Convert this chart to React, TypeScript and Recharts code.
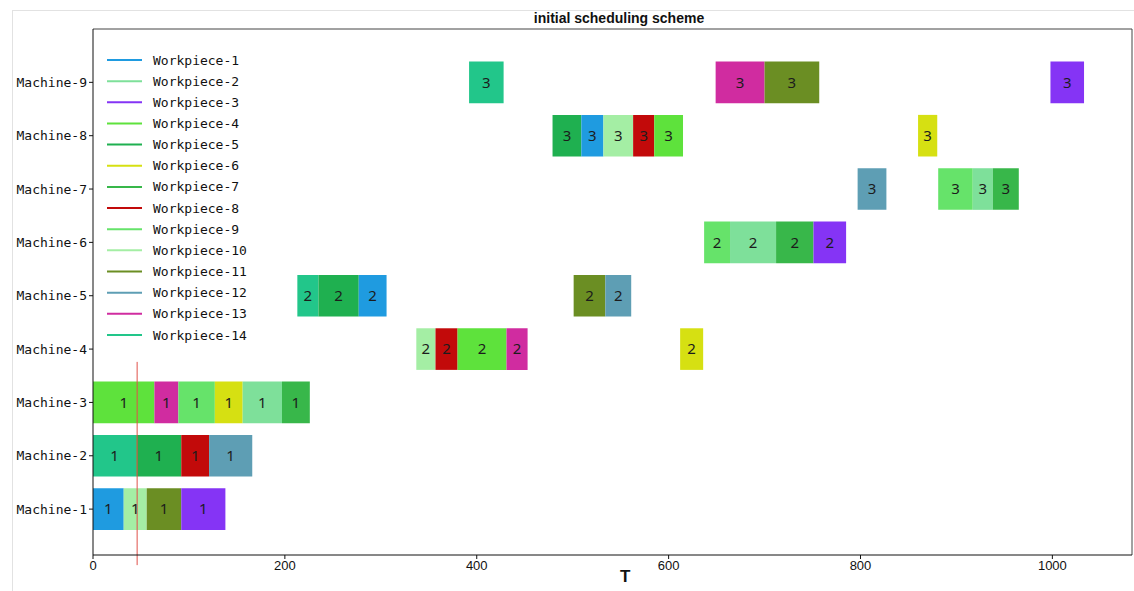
import { ComposedChart, XAxis, YAxis, ReferenceArea, ReferenceLine } from 'recharts';

const machines = [1, 2, 3, 4, 5, 6, 7, 8, 9];
const xTicks = [0, 200, 400, 600, 800, 1000];

const workpieces = [
    'Workpiece-1', 'Workpiece-2', 'Workpiece-3', 'Workpiece-4', 'Workpiece-5',
    'Workpiece-6', 'Workpiece-7', 'Workpiece-8', 'Workpiece-9', 'Workpiece-10',
    'Workpiece-11', 'Workpiece-12', 'Workpiece-13', 'Workpiece-14',
];
const workpieceColors = [
    '#1f9be0', '#7ee09a', '#8534f5', '#5ee23c', '#1fb050', '#d6e012', '#38b74a',
    '#c20a0a', '#66e36a', '#a4eea4', '#6b8e23', '#5e9eb4', '#d02ca0', '#22c68a',
];

// [machine, workpiece, start, end]
const firstOps = [
    [1, 1, 0, 32], [1, 10, 32, 56], [1, 11, 56, 92], [1, 3, 92, 138],
    [2, 14, 0, 45], [2, 5, 45, 92], [2, 8, 92, 121], [2, 12, 121, 166],
    [3, 4, 0, 64], [3, 13, 64, 89], [3, 9, 89, 127], [3, 6, 127, 156], [3, 2, 156, 197], [3, 7, 197, 226],
];
const secondOps = [
    [4, 10, 337, 357], [4, 8, 357, 380], [4, 4, 380, 431], [4, 13, 431, 453], [4, 6, 612, 636],
    [5, 14, 213, 235], [5, 5, 235, 277], [5, 1, 277, 306], [5, 11, 501, 534], [5, 12, 534, 561],
    [6, 9, 637, 664], [6, 2, 664, 712], [6, 7, 712, 751], [6, 3, 751, 785],
];
const thirdOps = [
    [7, 12, 797, 827], [7, 9, 881, 917], [7, 2, 917, 938], [7, 7, 938, 965],
    [8, 5, 479, 509], [8, 1, 509, 532], [8, 10, 532, 563], [8, 8, 563, 585], [8, 4, 585, 615], [8, 6, 860, 880],
    [9, 14, 392, 428], [9, 13, 649, 700], [9, 11, 700, 757], [9, 3, 998, 1033],
];

const markerTime = 46;

const mono = '"DejaVu Sans Mono", monospace';

const operations = [firstOps, secondOps, thirdOps];

export default function App() {
    const half = 0.39;
    return (
        <div style={{ position: 'absolute', left: 0, top: 0, width: 1134, height: 591, background: '#fff' }}>
            <div style={{
                position: 'absolute', left: 12, top: 10, right: 0, bottom: 0,
                borderLeft: '1px solid #e2e2e2', borderTop: '1px solid #e2e2e2',
            }} />
            <div style={{
                position: 'absolute', left: 0, width: 1238, top: 10, textAlign: 'center',
                fontFamily: '"Liberation Sans", Arial, sans-serif', fontWeight: 'bold', fontSize: 14, color: '#111',
            }}>
                initial scheduling scheme
            </div>
            <ComposedChart width={1134} height={591} margin={{ top: 29, right: 2, bottom: 0, left: 0 }}
                style={{ position: 'absolute', left: 0, top: 0 }}>
                <XAxis type="number" dataKey="x" domain={[0, 1083]} ticks={xTicks} allowDataOverflow
                    height={36} stroke="#111" tickSize={4}
                    tick={{ fill: '#111', fontSize: 13, fontFamily: '"Liberation Sans Narrow", "Liberation Sans", sans-serif' }} />
                <YAxis type="number" dataKey="y" domain={[0.14, 10]} ticks={machines} allowDataOverflow
                    width={93} stroke="#111" tickSize={4}
                    tickFormatter={(m: number) => `Machine-${m}`}
                    tick={{ fill: '#111', fontSize: 13, fontFamily: mono }} />
                <ReferenceLine y={10} stroke="#444" />
                <ReferenceLine x={1083} stroke="#444" />
                {operations.map((ops, oi) => ops.map(([m, w, s, e], i) => (
                    <ReferenceArea key={`${oi}-${i}`} x1={s} x2={e} y1={m - half} y2={m + half}
                        fill={workpieceColors[w - 1]} fillOpacity={1} stroke="none"
                        label={{ value: String(oi + 1), position: 'center', fill: '#1c1c1c', fontSize: 15,
                            fontFamily: '"Noto Sans", sans-serif' }} />
                )))}
                <ReferenceLine segment={[{ x: markerTime, y: -0.05 }, { x: markerTime, y: 3.76 }]}
                    stroke="#e0504a" strokeWidth={1} ifOverflow="visible" />
            </ComposedChart>
            <svg width={160} height={310} style={{ position: 'absolute', left: 100, top: 45 }}>
                {workpieces.map((name, i) => (
                    <g key={name}>
                        <line x1={7} x2={42} y1={15 + i * 21.15} y2={15 + i * 21.15}
                            stroke={workpieceColors[i]} strokeWidth={2} />
                        <text x={53} y={15 + i * 21.15} dy="0.35em" fontSize={13} fontFamily={mono} fill="#111">
                            {name}
                        </text>
                    </g>
                ))}
            </svg>
            <div style={{
                position: 'absolute', left: 620, top: 567, fontWeight: 'bold', fontSize: 17,
                fontFamily: '"Liberation Sans", Arial, sans-serif', color: '#111',
            }}>
                T
            </div>
        </div>
    );
}
